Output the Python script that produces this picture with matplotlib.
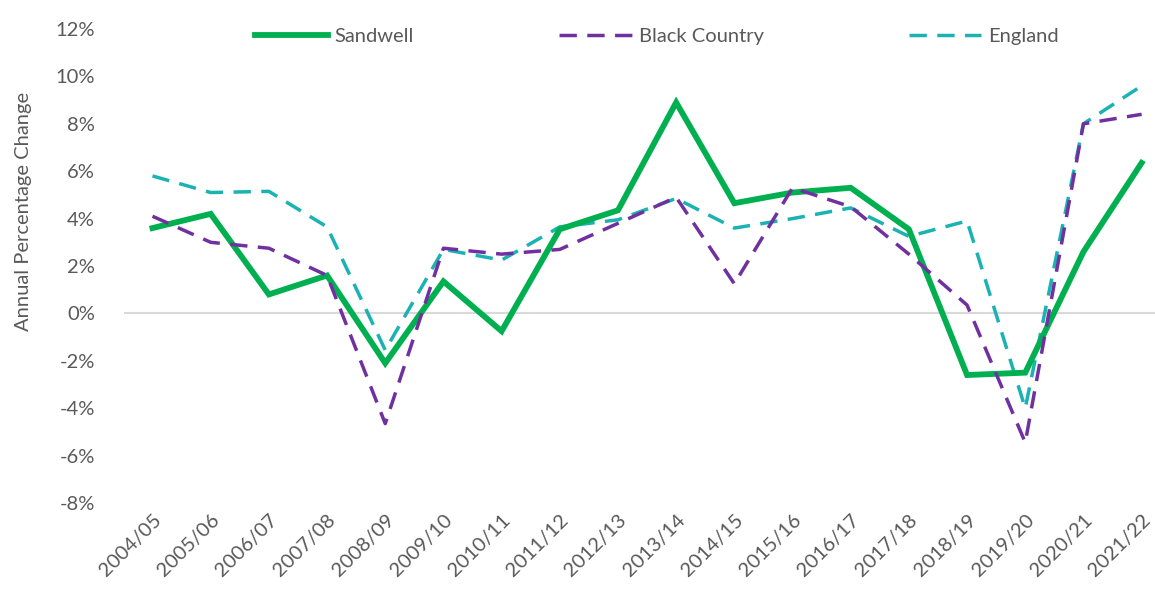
import matplotlib
matplotlib.use("Agg")
import matplotlib.pyplot as plt
from matplotlib.ticker import FuncFormatter

years = ["2004/05", "2005/06", "2006/07", "2007/08", "2008/09", "2009/10",
         "2010/11", "2011/12", "2012/13", "2013/14", "2014/15", "2015/16",
         "2016/17", "2017/18", "2018/19", "2019/20", "2020/21", "2021/22"]
sandwell = [3.6, 4.2, 0.8, 1.6, -2.1, 1.35, -0.75, 3.55, 4.35, 8.9, 4.65, 5.1,
            5.3, 3.55, -2.6, -2.5, 2.6, 6.35]
black_country = [4.1, 3.0, 2.75, 1.6, -4.65, 2.75, 2.5, 2.7, 3.8, 4.9, 1.25, 5.3,
                 4.5, 2.5, 0.35, -5.45, 8.0, 8.4]
england = [5.8, 5.1, 5.15, 3.65, -1.55, 2.7, 2.25, 3.65, 3.95, 4.85, 3.6, 4.0,
           4.45, 3.25, 3.9, -4.0, 8.0, 9.6]
yticks = list(range(-8, 13, 2))

plt.rcParams['font.family'] = ['Lato', 'DejaVu Sans']

fig = plt.figure(figsize=(11.55, 5.94), dpi=100)
ax = fig.add_axes([124/1155, (594-503)/594, 1 - 124/1155, (503-29)/594])

x = list(range(len(years)))
ax.axhline(0, color="#d9d9d9", lw=1.5, zorder=1)
ax.plot(x, sandwell, color="#00B050", lw=4.2, label="Sandwell", zorder=3,
        solid_joinstyle="miter")
ax.plot(x, black_country, color="#7030A0", lw=2.5, ls=(0, (5.0, 3.0)),
        label="Black Country", zorder=4)
ax.plot(x, england, color="#1AB2B2", lw=2.5, ls=(0, (5.0, 3.0)),
        label="England", zorder=2)

ax.set_xlim(-0.49, 17.23)
ax.set_ylim(-8, 12)
ax.set_yticks(yticks)
ax.yaxis.set_major_formatter(FuncFormatter(lambda v, p: f"{int(v)}%"))
ax.set_xticks(x)
ax.set_xticklabels(years, rotation=45, ha="right", rotation_mode="anchor")
ax.tick_params(axis="both", length=0, colors="#595959", labelsize=14.5)
ax.tick_params(axis="y", pad=21)
ax.tick_params(axis="x", pad=6)
for s in ax.spines.values():
    s.set_visible(False)
ax.set_ylabel("Annual Percentage Change", color="#595959", fontsize=14.5)
ax.yaxis.set_label_coords(-0.089, 0.615)

leg = ax.legend(loc="upper center", bbox_to_anchor=(0.517, 1.04), ncol=3,
                frameon=False, fontsize=14.5, handlelength=3.6, columnspacing=7.2,
                handletextpad=0.35)
for t in leg.get_texts():
    t.set_color("#595959")

fig.savefig("out.png", dpi=100)
